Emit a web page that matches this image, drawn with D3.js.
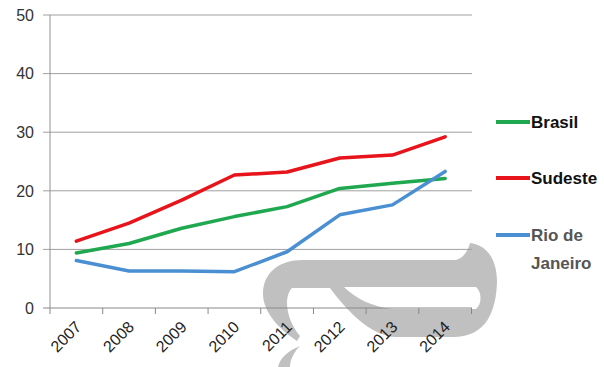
<!DOCTYPE html>
<html><head><meta charset="utf-8">
<script src="https://cdn.jsdelivr.net/npm/d3@7"></script>
<style>body{margin:0;background:#fff}svg{display:block}</style>
</head><body>
<svg id="c" width="604" height="367"></svg>
<script>
const years = ["2007","2008","2009","2010","2011","2012","2013","2014"];
const brasil = [9.4, 11.0, 13.6, 15.6, 17.3, 20.4, 21.3, 22.1];
const sudeste = [11.4, 14.5, 18.4, 22.7, 23.2, 25.6, 26.1, 29.2];
const rio = [8.1, 6.3, 6.3, 6.2, 9.6, 15.9, 17.6, 23.3];
const yTicks = [0, 10, 20, 30, 40, 50];
const seriesNames = ["Brasil", "Sudeste", "Rio de Janeiro"];
const colors = ["#1fa84f", "#e8141b", "#4a8fd2"];

const svg = d3.select("#c");
const x = d3.scaleBand().domain(years).range([50, 471.5]);
const y = d3.scaleLinear().domain([0, 50]).range([308, 15]);

// watermark shape (background)
const wm = svg.append("g");
wm.append("path").attr("fill", "#c0c0c0")
  .attr("d", "M297,341 C280,330 262,312 263,292 C264,272 280,260 302,260 L456,260 C464,258 468,250 470,243 " +
             "C486,245 497,258 497,282 C496,312 486,336 455,337 L395,337 C370,335 348,312 330,288 " +
             "L292,288 C284,296 285,318 300,336 Z");
wm.append("path").attr("fill", "#ffffff")
  .attr("d", "M344,287 L476,287 C482,292 482,304 476,309 L393,309 C372,307 355,298 344,287 Z");
wm.append("path").attr("fill", "#c0c0c0")
  .attr("d", "M300,346 C290,350 280,357 278,367 L290,367 C290,360 294,352 300,346 Z");

// gridlines
svg.append("g").selectAll("line").data(yTicks).join("line")
  .attr("x1", 43).attr("x2", 472)
  .attr("y1", d => y(d)).attr("y2", d => y(d))
  .attr("stroke", d => d === 0 ? "#888" : "#a0a0a0").attr("stroke-width", 1);

// y axis line
svg.append("line").attr("x1", 50).attr("x2", 50).attr("y1", 15).attr("y2", 308)
  .attr("stroke", "#909090");

// x ticks at band boundaries
const bounds = years.map(d => x(d)).concat([x.range()[1]]);
svg.append("g").selectAll("line").data(bounds).join("line")
  .attr("x1", d => d).attr("x2", d => d).attr("y1", 308).attr("y2", 314)
  .attr("stroke", "#888");

// y labels
svg.append("g").selectAll("text").data(yTicks).join("text")
  .attr("x", 34).attr("y", d => y(d)).attr("dy", "0.36em")
  .attr("text-anchor", "end").attr("font-family", "Liberation Sans, Arial, sans-serif")
  .attr("font-size", 16).attr("fill", "#333").text(d => d);

// x labels rotated
svg.append("g").selectAll("text").data(years).join("text")
  .attr("transform", d => `translate(${x(d) + x.bandwidth()/2 + 2},${324}) rotate(-45)`)
  .attr("text-anchor", "end").attr("dy", "0.35em")
  .attr("font-family", "Liberation Sans, Arial, sans-serif")
  .attr("font-size", 16).attr("fill", "#222").text(d => d);

// lines
const line = d3.line().x((d, i) => x(years[i]) + x.bandwidth()/2).y(d => y(d));
const allSeries = [brasil, sudeste, rio];
svg.append("g").selectAll("path").data(allSeries).join("path")
  .attr("d", d => line(d)).attr("fill", "none")
  .attr("stroke", (d, i) => colors[i]).attr("stroke-width", 3.5)
  .attr("stroke-linejoin", "round").attr("stroke-linecap", "round");

// legend
const legY = [122, 178, 235];
const lg = svg.append("g");
seriesNames.forEach((n, i) => {
  lg.append("line").attr("x1", 496).attr("x2", 530).attr("y1", legY[i]).attr("y2", legY[i])
    .attr("stroke", colors[i]).attr("stroke-width", 4);
  const t = lg.append("text").attr("x", 531).attr("y", legY[i]).attr("dy", "0.36em")
    .attr("font-family", "Liberation Sans, Arial, sans-serif").attr("font-weight", "bold")
    .attr("font-size", 17).attr("fill", i === 2 ? "#555" : "#111");
  if (i === 2) {
    t.append("tspan").attr("x", 531).text("Rio de");
    t.append("tspan").attr("x", 531).attr("dy", 28).text("Janeiro");
  } else t.text(n);
});
</script>
</body></html>
